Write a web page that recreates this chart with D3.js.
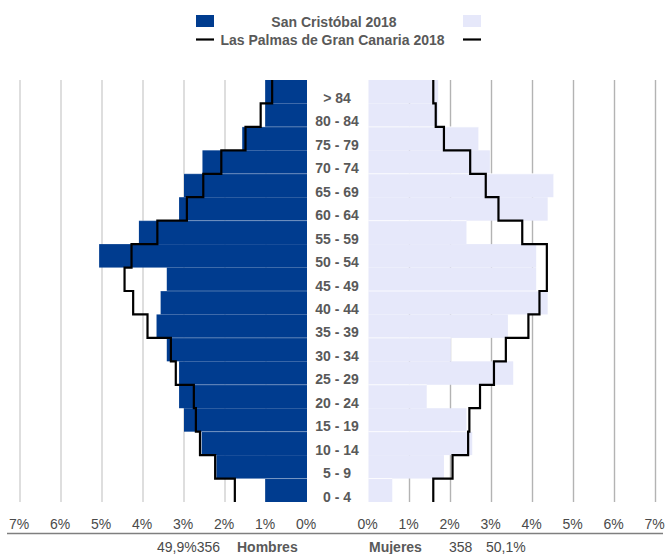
<!DOCTYPE html>
<html>
<head>
<meta charset="utf-8">
<script src="https://cdn.jsdelivr.net/npm/d3@7"></script>
<style>
  body { margin: 0; background: #fff; }
  text { font-family: "Liberation Sans", Arial, sans-serif; }
</style>
</head>
<body>
<div class="chart"></div>
<script>
// age groups, bottom to top
const ages = ["0 - 4", "5 - 9", "10 - 14", "15 - 19", "20 - 24", "25 - 29", "30 - 34", "35 - 39", "40 - 44",
  "45 - 49", "50 - 54", "55 - 59", "60 - 64", "65 - 69", "70 - 74", "75 - 79", "80 - 84", "> 84"];
// San Cristóbal 2018 (% of total)
const scHombres = [1.02, 2.21, 2.57, 3.0, 3.12, 3.12, 3.42, 3.67, 3.57, 3.42, 5.07, 4.10, 3.12, 3.0, 2.55, 1.58, 1.02, 1.02];
const scMujeres = [0.58, 1.84, 2.53, 2.39, 1.42, 3.53, 2.01, 3.40, 4.37, 4.09, 4.09, 2.39, 4.37, 4.51, 2.96, 2.68, 1.70, 1.70];
// Las Palmas de Gran Canaria 2018 (% of total)
const lpHombres = [1.76, 2.24, 2.61, 2.71, 2.76, 3.20, 3.32, 3.89, 4.24, 4.45, 4.28, 3.65, 2.93, 2.53, 2.09, 1.50, 1.13, 0.85];
const lpMujeres = [1.58, 2.05, 2.43, 2.46, 2.72, 3.06, 3.35, 3.90, 4.17, 4.35, 4.35, 3.75, 3.17, 2.86, 2.48, 1.84, 1.64, 1.58];
const ticks = [0, 1, 2, 3, 4, 5, 6, 7];
// rows with a faint seam on top
const seamAges = ["0 - 4", "10 - 14", "20 - 24", "30 - 34", "40 - 44", "55 - 59", "65 - 69", "75 - 79"];
const totals = {hombres: "49,9%356", hombresLabel: "Hombres", mujeresLabel: "Mujeres", mujeresN: "358", mujeresPct: "50,1%"};

const width = 667, height = 554;
const darkBlue = "#003c8f", lightBlue = "#e6e8fa", grey = "#595959", tickGrey = "#4a4a4a";

const svg = d3.select(".chart").append("svg")
  .attr("width", width)
  .attr("height", height);

const y = d3.scaleBand()
  .domain(ages.slice().reverse())
  .range([80, 502])
  .padding(0);

const xL = d3.scaleLinear().domain([0, 7]).range([307, 20]);
const xR = d3.scaleLinear().domain([0, 7]).range([368.5, 655.5]);

// gridlines
svg.append("g").selectAll("line")
  .data(ticks.filter(t => t > 0))
  .enter().append("line")
  .attr("x1", d => xL(d)).attr("x2", d => xL(d))
  .attr("y1", 80).attr("y2", 502)
  .attr("stroke", "#d0d0d0").attr("stroke-width", 1.4);

svg.append("g").selectAll("line")
  .data(ticks.filter(t => t > 0))
  .enter().append("line")
  .attr("x1", d => xR(d)).attr("x2", d => xR(d))
  .attr("y1", 80).attr("y2", 502)
  .attr("stroke", "#b3b3b3").attr("stroke-width", 1.4);

// bars
svg.append("g").selectAll("rect")
  .data(ages)
  .enter().append("rect")
  .attr("x", (d, i) => xL(scHombres[i]))
  .attr("y", d => y(d))
  .attr("width", (d, i) => xL(0) - xL(scHombres[i]))
  .attr("height", y.bandwidth())
  .attr("fill", darkBlue);

svg.append("g").selectAll("rect")
  .data(ages)
  .enter().append("rect")
  .attr("x", xR(0))
  .attr("y", d => y(d))
  .attr("width", (d, i) => xR(scMujeres[i]) - xR(0))
  .attr("height", y.bandwidth())
  .attr("fill", lightBlue);

// faint seams between some bars
svg.append("g").selectAll("line")
  .data(seamAges)
  .enter().append("line")
  .attr("x1", d => xL(scHombres[ages.indexOf(d)]))
  .attr("x2", xL(0))
  .attr("y1", d => y(d)).attr("y2", d => y(d))
  .attr("stroke", "#fff").attr("stroke-opacity", 0.3).attr("stroke-width", 1);

svg.append("g").selectAll("line")
  .data(seamAges)
  .enter().append("line")
  .attr("x1", xR(0))
  .attr("x2", d => xR(scMujeres[ages.indexOf(d)]))
  .attr("y1", d => y(d)).attr("y2", d => y(d))
  .attr("stroke", "#fff").attr("stroke-opacity", 0.8).attr("stroke-width", 1);

// step lines for Las Palmas
function stepPoints(values, xs) {
  const pts = [];
  ages.slice().reverse().forEach(a => {
    const v = values[ages.indexOf(a)];
    pts.push([xs(v), y(a)]);
    pts.push([xs(v), y(a) + y.bandwidth()]);
  });
  return pts;
}
const line = d3.line();
svg.append("path")
  .attr("d", line(stepPoints(lpHombres, xL)))
  .attr("fill", "none").attr("stroke", "#000").attr("stroke-width", 2.2);
svg.append("path")
  .attr("d", line(stepPoints(lpMujeres, xR)))
  .attr("fill", "none").attr("stroke", "#000").attr("stroke-width", 2.2);

// age labels
svg.append("g").selectAll("text")
  .data(ages)
  .enter().append("text")
  .attr("x", 337)
  .attr("y", d => y(d) + y.bandwidth() - 0.5)
  .attr("text-anchor", "middle")
  .attr("font-size", "14px")
  .attr("font-weight", "bold")
  .attr("fill", grey)
  .text(d => d);

// x axes
function styleAxis(g) {
  g.select(".domain").remove();
  g.selectAll(".tick line").remove();
  g.selectAll(".tick text")
    .attr("y", 0).attr("dy", null).attr("x", -1.5)
    .attr("font-size", "14px")
    .attr("font-family", "'Liberation Sans', Arial, sans-serif")
    .attr("fill", tickGrey);
}
svg.append("g")
  .attr("transform", "translate(0,529)")
  .call(d3.axisBottom(xL).tickValues(ticks).tickFormat(d => d + "%").tickSize(0).tickPadding(0))
  .call(styleAxis);
svg.append("g")
  .attr("transform", "translate(0,529)")
  .call(d3.axisBottom(xR).tickValues(ticks).tickFormat(d => d + "%").tickSize(0).tickPadding(0))
  .call(styleAxis);

svg.append("line")
  .attr("x1", 7).attr("x2", 663)
  .attr("y1", 533.5).attr("y2", 533.5)
  .attr("stroke", "#7f7f7f").attr("stroke-width", 1.6);

// totals under axis
const bottom = svg.append("g").attr("font-size", "14px").attr("fill", tickGrey);
bottom.append("text").attr("x", 157).attr("y", 552).text(totals.hombres);
bottom.append("text").attr("x", 237).attr("y", 552).attr("font-weight", "bold").attr("fill", grey).text(totals.hombresLabel);
bottom.append("text").attr("x", 369).attr("y", 552).attr("font-weight", "bold").attr("fill", grey).text(totals.mujeresLabel);
bottom.append("text").attr("x", 449).attr("y", 552).text(totals.mujeresN);
bottom.append("text").attr("x", 486).attr("y", 552).text(totals.mujeresPct);

// legend
const legend = svg.append("g");
legend.append("rect").attr("x", 196).attr("y", 15).attr("width", 18).attr("height", 12).attr("fill", darkBlue);
legend.append("rect").attr("x", 463).attr("y", 15).attr("width", 18).attr("height", 12).attr("fill", lightBlue);
legend.append("line").attr("x1", 196).attr("x2", 214).attr("y1", 39.5).attr("y2", 39.5)
  .attr("stroke", "#000").attr("stroke-width", 2.2);
legend.append("line").attr("x1", 463).attr("x2", 481).attr("y1", 39.5).attr("y2", 39.5)
  .attr("stroke", "#000").attr("stroke-width", 2.2);
legend.append("text").attr("x", 334).attr("y", 26.5).attr("text-anchor", "middle")
  .attr("font-size", "14px").attr("font-weight", "bold").attr("fill", grey)
  .text("San Cristóbal 2018");
legend.append("text").attr("x", 332.5).attr("y", 44.5).attr("text-anchor", "middle")
  .attr("font-size", "14px").attr("font-weight", "bold").attr("fill", grey)
  .text("Las Palmas de Gran Canaria 2018");
</script>
</body>
</html>
